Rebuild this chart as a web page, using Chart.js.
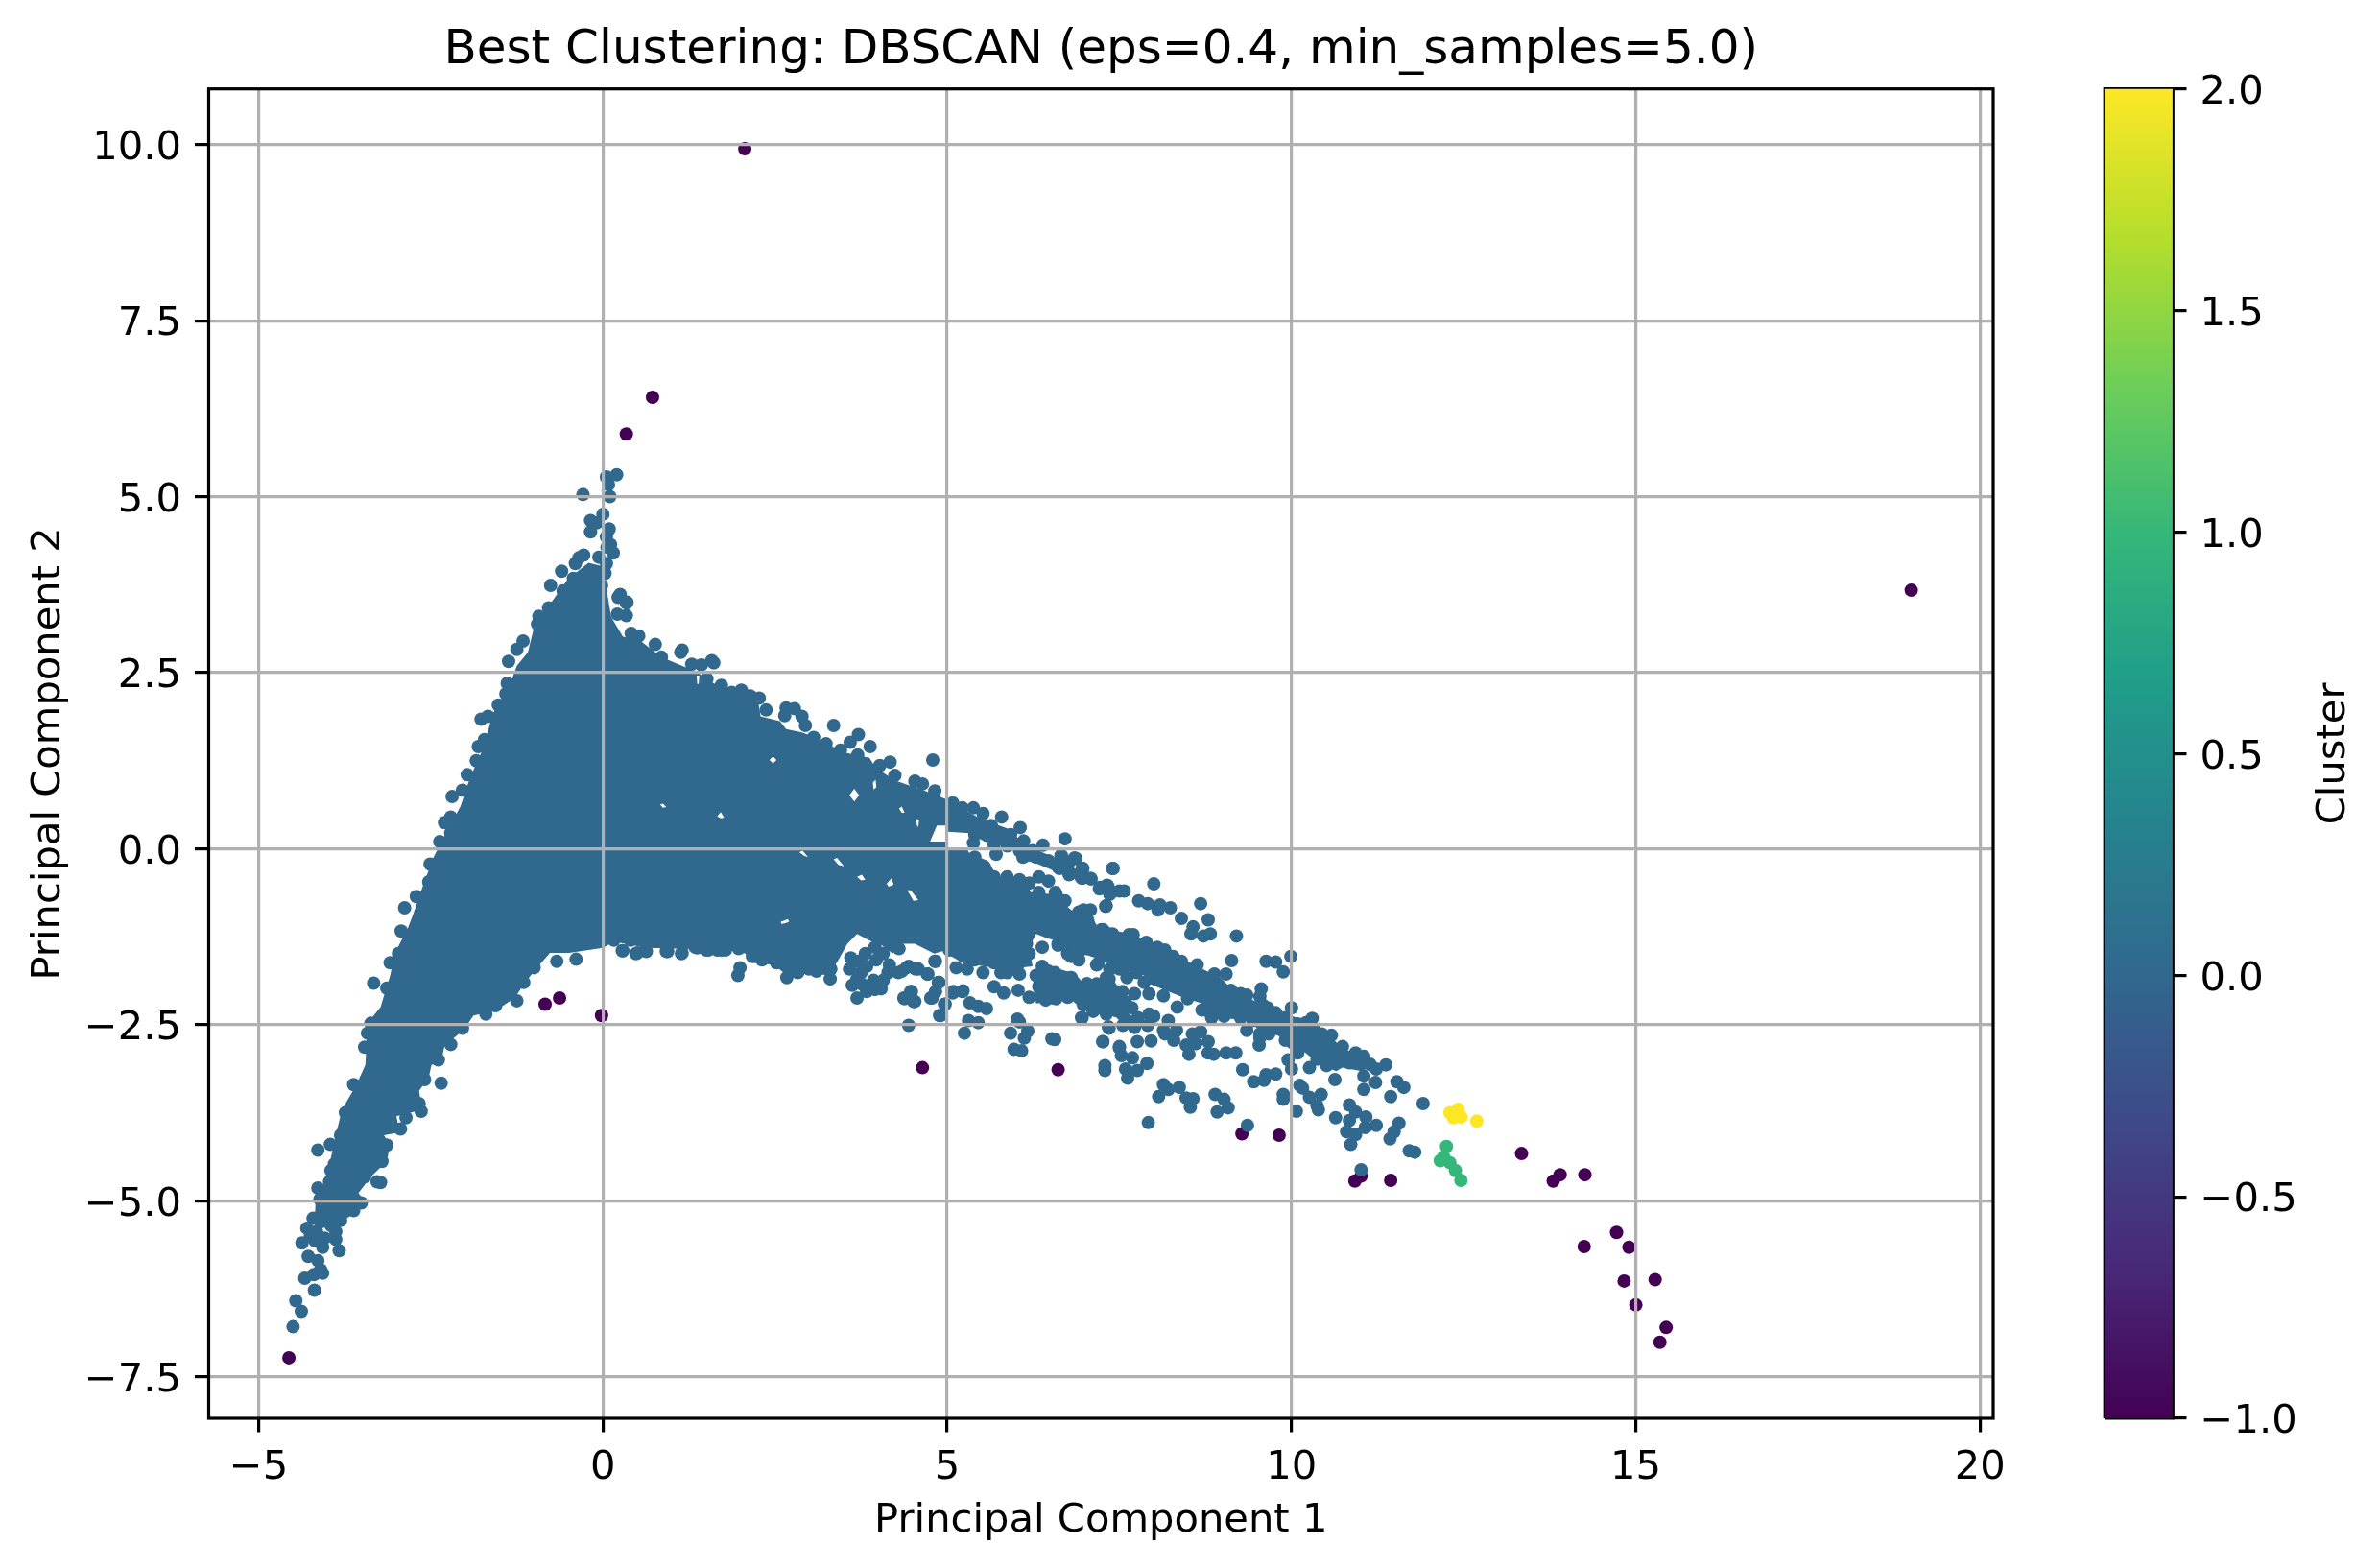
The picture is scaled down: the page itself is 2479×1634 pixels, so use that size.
<!DOCTYPE html>
<html><head><meta charset="utf-8">
<style>html,body{margin:0;padding:0;background:#fff}canvas{display:block}</style>
<script src="https://cdn.jsdelivr.net/npm/chart.js@4"></script>
</head><body><canvas id="c" width="2479" height="1634"></canvas>
<script>
const chartTitle="Best Clustering: DBSCAN (eps=0.4, min_samples=5.0)";
const xLabel="Principal Component 1", yLabel="Principal Component 2", cbLabel="Cluster";
const xTicks=[-5,0,5,10,15,20];
const yTicks=[-7.5,-5,-2.5,0,2.5,5,7.5,10];
const cbTicks=[-1,-0.5,0,0.5,1,1.5,2];
const xRange=[-5.725,20.19], yRange=[-8.09,10.79], cbRange=[-1,2];
const viridis=["#440154","#482878","#3e4989","#31688e","#26828e","#1f9e89","#35b779","#6ece58","#b5de2b","#fde725"];

// Where the points overlap completely: outlines of the solid regions of cluster 0
const solidMain=[[-0.21,4.06],[-0.51,3.83],[-0.74,3.51],[-1,3.15],[-1.09,2.79],[-1.25,2.6],[-1.35,2.33],[-1.6,1.92],[-1.74,1.42],[-1.93,1.01],[-2.07,0.6],[-2.28,0.22],[-2.46,-0.12],[-2.6,-0.49],[-2.76,-0.94],[-2.83,-1.12],[-3.02,-1.48],[-3.09,-1.8],[-3.23,-2.25],[-3.42,-2.48],[-3.45,-3.07],[-3.58,-3.35],[-3.79,-3.71],[-3.88,-4.07],[-3.97,-4.48],[-4.02,-4.71],[-4.17,-4.94],[-4.18,-5.16],[-4.25,-5.28],[-3.81,-5.3],[-3.62,-5.19],[-3.44,-5.03],[-3.55,-4.89],[-3.37,-4.66],[-3.14,-4.44],[-3.09,-4.21],[-3.18,-4.07],[-2.95,-4.03],[-3,-3.8],[-2.63,-3.71],[-2.67,-3.44],[-2.53,-3.25],[-2.49,-3.07],[-2.35,-3.03],[-2.3,-2.8],[-2.02,-2.57],[-1.88,-2.37],[-1.56,-2.3],[-1.28,-2.12],[-1.14,-1.91],[-0.93,-1.66],[-0.77,-1.48],[-0.49,-1.48],[0,-1.41],[0.16,-1.32],[0.63,-1.41],[1.84,-1.44],[2.07,-1.49],[2.16,-1.62],[2.49,-1.65],[2.67,-1.8],[2.95,-1.76],[3.28,-1.8],[3.42,-1.58],[3.55,-1.35],[3.69,-1.21],[3.88,-1.31],[4.02,-1.35],[4.21,-1.49],[4.3,-1.35],[4.53,-1.35],[4.81,-1.49],[4.99,-1.44],[4.99,0.1],[4.75,0.1],[4.85,0.33],[4.99,0.33],[4.99,0.7],[4.71,0.81],[4.24,0.97],[3.96,1.15],[3.87,1.29],[3.45,1.38],[3.27,1.49],[3.03,1.6],[2.89,1.65],[2.66,1.7],[2.57,1.81],[2.29,1.88],[2.25,2.12],[1.87,2.2],[1.64,2.33],[1.36,2.51],[0.85,2.72],[0.52,2.97],[0.29,3.01],[0.12,3.29],[0.05,3.7],[0,4.01]];
const solidMainHoles=[
[[3.58,0.76],[3.65,0.85],[3.72,0.76],[3.65,0.67]],
[[2.42,1.26],[2.47,1.31],[2.52,1.26],[2.47,1.21]],
[[1.66,0.46],[1.71,0.52],[1.76,0.44],[1.71,0.43]],
[[0.83,0.63],[0.87,0.64],[0.92,0.59],[0.87,0.58]],
[[3.92,0.94],[3.96,0.98],[3.97,0.87],[3.93,0.84]],
[[4.3,0.57],[4.34,0.6],[4.38,0.51],[4.34,0.51]],
[[2.85,-0.05],[2.9,-0.03],[2.98,-0.12],[2.92,-0.1]],
[[3.35,-0.15],[3.4,-0.13],[3.5,-0.25],[3.42,-0.23]],
[[3.69,-0.4],[3.76,-0.37],[3.81,-0.44],[3.75,-0.45]],
[[4.12,-0.5],[4.19,-0.42],[4.22,-0.51],[4.15,-0.54]],
[[4.42,-0.59],[4.47,-0.59],[4.58,-0.73],[4.51,-0.74]],
[[2.58,-1.04],[2.69,-1],[2.7,-1.04],[2.6,-1.07]],
[[4.55,0.42],[4.59,0.41],[4.58,0.31],[4.56,0.33]],
[[1.36,2.46],[1.4,2.46],[1.39,2.34],[1.37,2.34]]
];
const solidMiddle=[[4.96,-0.01],[5.22,-0.03],[5.59,-0.17],[5.73,-0.4],[6.1,-0.42],[6.22,-0.62],[6.57,-0.65],[6.75,-0.83],[6.89,-0.94],[7.12,-0.96],[7.17,-1.12],[7.54,-1.21],[7.54,-1.44],[7.17,-1.4],[6.8,-1.35],[6.47,-1.28],[6.29,-1.21],[6.19,-1.4],[6.24,-1.67],[5.87,-1.71],[5.54,-1.67],[5.22,-1.62],[4.99,-1.49],[4.96,-0.94]];
const solidMiddleHoles=[
[[5.38,-0.9],[5.64,-0.96],[5.71,-1.12],[5.5,-1.17]],
[[5.79,-1.2],[5.85,-1.2],[5.85,-1.36],[5.79,-1.36]]
];
const solidUpper=[[4.96,0.7],[5.22,0.56],[5.5,0.42],[5.87,0.29],[6.03,0.15],[6.33,-0.03],[6.66,-0.17],[6.98,-0.35],[7.03,-0.44],[6.8,-0.42],[6.52,-0.3],[6.24,-0.19],[6.05,-0.17],[6.01,0.01],[5.54,0.1],[5.33,0.22],[5.01,0.24]];
const solidBand=[[6.56,-0.89],[6.84,-0.89],[7.07,-1.11],[7.63,-1.2],[7.86,-1.3],[8.16,-1.43],[8.61,-1.66],[8.98,-1.84],[9.16,-2.02],[9.54,-2.2],[9.91,-2.34],[10.28,-2.48],[10.56,-2.66],[10.74,-2.84],[11.02,-2.93],[11.21,-3.07],[11.02,-3.16],[10.74,-3.11],[10.65,-3.16],[10.42,-3.07],[10.19,-2.89],[10,-2.8],[9.81,-2.66],[9.54,-2.57],[9.3,-2.43],[8.79,-2.39],[8.7,-2.2],[8.42,-2.11],[7.96,-1.93],[7.86,-1.8],[7.49,-1.7],[7.17,-1.56],[6.79,-1.43],[6.56,-1.35]];
const solidLower=[[6.56,-1.8],[6.79,-1.8],[7.03,-1.93],[7.35,-1.86],[7.39,-2.02],[7.68,-2.11],[7.68,-2.29],[7.44,-2.36],[6.98,-2.29],[6.93,-2.13],[6.56,-2.13]];
const solidLower2=[[6.33,-1.62],[6.8,-1.76],[6.98,-1.9],[7.45,-1.94],[7.54,-2.27],[6.94,-2.27],[6.8,-2.14],[6.29,-2.2],[6.24,-1.94]];

const cluster0Points=[
[0.2,5.31],[0.05,5.28],[0.08,5.17],[-0.29,5.03],[0.1,5],[0,4.75],[-0.18,4.66],[-0.09,4.63],[-0.18,4.5],[0.09,4.54],[0.05,4.43],[0.11,4.32],[0.06,4.28],[0.15,4.2],[-0.06,4.14],[-0.28,4.17],[-0.35,4.13],[-0.4,4.05],[0.05,4.05],[0.03,3.91],[-0.6,3.94],[-0.76,3.74],[-0.58,3.66],[-0.43,3.84],[-0.02,3.74],[0.25,3.61],[0.35,3.5],[0.22,3.57],[0.34,3.31],[0.21,3.33],[-0.79,3.42],[-0.93,3.3],[-0.95,3.19],[-1.16,2.95],[-1.25,2.83],[-1.37,2.66],[-1.39,2.35],[-1.41,2.2],[-1.52,2.04],[-1.67,1.88],[-1.77,1.84],[-1.72,1.55],[-1.81,1.45],[-1.84,1.25],[-1.97,1.05],[-2.04,0.83],[-2.19,0.74],[-2.21,0.45],[-2.3,0.37],[-2.21,0.22],[-2.37,0.1],[-2.51,-0.22],[-2.53,-0.47],[-2.71,-0.68],[-2.88,-0.84],
[0.34,3.49],[0.41,3.06],[0.52,3.02],[0.76,2.9],[1.15,2.82],[1.13,2.79],[0.85,2.72],[1.29,2.62],[1.43,2.61],[1.58,2.67],[1.61,2.64],[1.51,2.41],[1.72,2.32],[1.87,2.22],[2.01,2.25],[2.14,2.17],[2.27,2.14],[2.37,1.97],[2.66,2],[2.78,1.99],[2.64,1.89],[2.89,1.88],[2.94,1.75],[3.35,1.75],[3.71,1.62],[3.59,1.51],[3.88,1.45],[3.24,1.49],[3.06,1.58],[4.17,1.23],[4.79,1.26],[4.24,1.04],[4.53,0.96],[4.64,0.92],[4.82,0.82],[3.45,1.4],[3.7,1.33],[4.02,1.18],
[-2.93,-1.17],[-2.97,-1.49],[-3.09,-1.62],[-3.33,-1.91],[-3.14,-1.98],[-3.37,-2.48],[-3.42,-2.62],[-3.46,-2.82],[-3.62,-3.35],[-3.74,-3.75],[-3.81,-4.07],[-3.96,-4.2],[-4.14,-4.28],[-3.9,-4.48],[-3.95,-4.57],[-3.97,-4.73],[-4.14,-4.82],[-3.51,-5.03],[-4.11,-4.98],[-4.21,-5.25],[-4.3,-5.39],[-4.37,-5.6],[-4.28,-5.79],[-4.14,-5.85],[-4.1,-5.98],[-4.07,-6.03],[-4.33,-6.1],[-4.2,-6.05],[-4.19,-6.27],[-4.46,-6.42],[-4.38,-6.57],[-4.5,-6.79],[-3.83,-5.71],[-3.88,-5.55],[-3.88,-5.44],[-4.07,-5.66],[-4.04,-5.53],[-4.18,-5.57],[-4.16,-5.44],[-4.25,-5.5],[-3.81,-5.28],[-3.62,-5.14],[-3.23,-4.74],[-3.28,-4.73],[-3.46,-4.66],[-3.21,-4.44],[-3.14,-4.21],[-2.94,-3.98],[-2.86,-3.82],[-2.64,-3.73],[-2.67,-3.62],[-2.35,-3.33],[-2.59,-3.28],[-2.39,-3],[-2.21,-2.78],[-2.04,-2.55],[-1.7,-2.35],[-1.56,-2.23],[-1.25,-2.16],[-1.15,-1.9],[-1,-1.69],[-0.67,-1.6],[-0.39,-1.57],[-0.58,-1.37],[0.28,-1.45],[0.5,-1.48],[0.63,-1.46],[0.94,-1.46],[1.15,-1.48],[1.37,-1.41],[1.53,-1.44],[1.72,-1.44],[0.16,-1.3],[0.4,-1.3],
[-4,-5.2],[-3.95,-5.35],[-4.1,-5.3],
[0.29,-1.45],[0.48,-1.49],[0.62,-1.44],[0.92,-1.46],[1.14,-1.49],[1.34,-1.4],[1.5,-1.44],[1.66,-1.44],[1.78,-1.44],[1.97,-1.42],[2.17,-1.53],[2.31,-1.58],[1.99,-1.69],[1.96,-1.8],[2.67,-1.83],[2.83,-1.76],[2.99,-1.71],[3.1,-1.74],[3.3,-1.85],[3.31,-1.71],[3.36,-1.28],[3.13,-1.3],[3.08,-1.44],[3.03,-1.58],[2.52,-1.62],[2.71,-1.62],[2.48,-1.44],[2.76,-1.44],[2.29,-1.4],[4.3,-1.42],[4.41,-1.69],[4.29,-1.76],[4.54,-1.71],[4.71,-1.78],[4.82,-1.6],[4.87,-1.9],[4.78,-2.12],[4.38,-2.13],[4.51,-2.17],[4.47,-2.03],[4.96,-2.21],[4.89,-2.37],[4.44,-2.51],[5.08,-2.05],[5.22,-2.03],[5.33,-2.19],[5.45,-2.24],[5.57,-2.27],[5.31,-2.44],[5.45,-2.47],[5.25,-2.62],[6.02,-2.42],[6.05,-2.46],[5.92,-2.62],[6.17,-2.59],[6.12,-2.69],[5.97,-2.85],[6.08,-2.87],[6.52,-2.7],[7.26,-2.74],[7.35,-2.55],[7.5,-2.83],[6.95,-2.4],[5.68,-1.96],[5.82,-2.05],[6.03,-2.01],[6.19,-2.11],[6.43,-2.15],[6.75,-2.11],[6.54,-2.12],[6.98,-2.21],[7.12,-2.3],[7.31,-2.35],[7.45,-2.3],[6.38,-1.4],[6.61,-1.37],[6.75,-1.49],[6.91,-1.58],[7.17,-1.65],[7.36,-1.71],[7.31,-1.83],
[3.58,-1.71],[3.69,-1.85],[3.62,-1.94],[3.69,-2.12],[3.83,-2.03],[4.04,-1.99],[4.16,-1.65],[4.07,-1.49],[3.95,-1.4],[3.81,-1.49],[3.83,-1.67],[3.97,-1.58],[4.14,-1.76],[3.93,-1.87],[3.6,-1.55],[3.71,-1.6],[3.75,-1.76],[3.77,-1.93],[3.95,-2.0],[4.07,-1.87],
[4.34,-1.74],[4.44,-1.67],[4.58,-1.71],[4.72,-1.78],[4.88,-1.9],[4.83,-2.03],[4.76,-2.12],[4.48,-2.03],[4.37,-2.12],[4.53,-2.17],[4.97,-2.21],[4.9,-2.37],[4.83,-1.6],[5.09,-2.03],[5.23,-2.02],
[6.38,-1.67],[6.47,-1.74],[6.29,-1.8],[6.61,-1.85],[6.8,-1.83],[6.52,-1.96],[6.33,-1.96],[6.71,-1.99],[6.84,-1.92],[7.03,-1.92],[7.17,-1.94],[7.36,-1.96],[7.45,-2.03],[6.94,-2.12],[7.08,-2.12],[7.22,-2.17],[7.36,-2.17],[7.5,-2.17],
[5.13,-1.69],[5.29,-1.71],[5.52,-1.76],[5.03,-1.44],[5.24,-1.53],[5.4,-1.58],[5.54,-1.53],[5.68,-1.62],[5.73,-1.49],[5.78,-1.76],[5.87,-1.76],[6.05,-1.78],[6.05,-1.62],[6.19,-1.49],[6.15,-1.35],[6.01,-1.4],[5.92,-1.53],[5.82,-1.62],[5.96,-1.71],
[5.08,0.65],[5.22,0.58],[5.38,0.58],[5.52,0.5],[5.22,0.47],[5.36,0.33],[5.45,0.33],[5.64,0.33],[5.79,0.45],[5.54,0.22],[5.68,0.22],[5.82,0.15],[5.92,0.2],[5.4,0.2],[5.38,0.08],[6.06,0.3],[6.11,0.11],[6.05,-0.03],[6.1,-0.12],[5.87,0.04],[5.71,-0.08],[5.68,0.06],[6.24,-0.03],[6.39,0.05],[6.29,-0.12],[6.47,-0.17],[6.61,-0.26],[6.66,-0.1],[6.71,0.14],[6.87,-0.14],[6.78,-0.35],[6.97,-0.28],[6.94,-0.4],[7.09,-0.43],[7.22,-0.55],[7.33,-0.53],[7.4,-0.28],[7.5,-0.6],[7.31,-0.81],[7.36,-0.65],
[6.33,-0.4],[6.19,-0.49],[6.47,-0.46],[6.57,-0.62],[6.71,-0.74],[6.33,-0.62],[6.1,-0.71],[6.24,-0.8],[6.47,-0.9],[6.66,-0.94],[6.98,-0.87],[6.94,-0.96],[7.08,-0.87],[6.89,-1.08],[7.08,-1.12],[7.26,-1.15],[7.4,-1.21],[6.8,-1.21],[6.61,-1.17],[6.43,-1.12],[6.24,-1.08],[6.05,-1.03],[6.98,-1.3],[7.17,-1.33],[7.36,-1.4],[7.5,-1.49],[7.12,-1.44],[6.94,-1.44],[6.8,-1.35],[7.5,-1.71],[7.5,-1.3],[6.8,-1.53],
[5.22,-0.08],[5.4,-0.12],[5.54,-0.26],[5.68,-0.4],[5.87,-0.4],[6.05,-0.44],
[6.65,-0.1],[6.85,-0.13],[6.77,-0.19],[6.96,-0.28],[7.41,-0.28],[6.63,-0.28],[6.77,-0.37],[6.96,-0.42],[7.08,-0.42],[8,-0.5],[7.21,-0.57],[7.32,-0.52],[7.57,-0.6],[7.39,-0.61],[7.3,-0.82],[7.78,-0.74],[7.91,-0.78],[8.06,-0.87],[8.09,-0.8],[8.24,-0.84],[8.68,-0.78],[8.4,-0.99],[8.79,-1.01],[8.57,-1.11],[8.54,-1.21],[8.72,-1.24],[8.82,-1.21],[9.2,-1.24],[9.13,-1.59],[9.63,-1.6],[9.77,-1.61],[9.99,-1.53],[9.88,-1.75],
[6.58,-0.65],[6.68,-0.74],[6.61,-0.9],[6.7,-1.03],[6.91,-0.9],[7.03,-0.9],[7.03,-1.01],[6.84,-1.08],[6.61,-1.12],[6.75,-1.22],[6.93,-1.17],[7.07,-1.26],[6.61,-1.35],[6.75,-1.49],[6.91,-1.58],[7.24,-1.15],[7.35,-1.21],[7.21,-1.35],[7.03,-1.42],[7.19,-1.63],[7.3,-1.49],[7.51,-1.28],[7.64,-1.22],[7.7,-1.22],[7.49,-1.44],[7.65,-1.4],[7.79,-1.53],[7.42,-1.67],[7.56,-1.67],[7.72,-1.67],[7.89,-1.33],[8.05,-1.4],[8.16,-1.44],[7.96,-1.53],[8.12,-1.6],[8.28,-1.53],[8.4,-1.6],[8.21,-1.76],[7.96,-1.81],[7.86,-1.9],[8.63,-1.65],[8.51,-1.72],[8.37,-1.76],[8.61,-1.85],[8.42,-1.94],[8.19,-1.92],[8.88,-1.78],[9.05,-1.78],[8.79,-1.9],[8.93,-1.94],[8.61,-2.04],[8.49,-2.13],[8.75,-2.08],[9.12,-2.01],[9.26,-2.06],[9.35,-2.08],[9.56,-1.99],[9.54,-2.1],[8.98,-2.1],[9.16,-2.22],[9.35,-2.26],[9.58,-2.22],[9.65,-2.26],[9.77,-2.33],[9.91,-2.4],[10,-2.26],[8.88,-2.26],[8.75,-2.29],[8.84,-2.4],[9.02,-2.38],[9.26,-2.4],[9.44,-2.44],[9.63,-2.49],[9.35,-2.58],[9.54,-2.63],[9.67,-2.63],[9.81,-2.54],[9.98,-2.49],[10.09,-2.49],[10.21,-2.47],[10.3,-2.41],[10.33,-2.58],[10.14,-2.63],[9.91,-2.72],[10.02,-2.76],[10.09,-2.9],[10.23,-2.72],[10.44,-2.63],[10.58,-2.65],[10.51,-2.72],[10.42,-2.86],[10.74,-2.81],[10.6,-2.9],[10.37,-2.99],[10.93,-2.9],[11.05,-2.95],[11.14,-3.06],[11.37,-3.07],[10.84,-3.04],[10.65,-2.99],[10.51,-3.08],[10.26,-3.11],[11.05,-3.23],[11.23,-3.13],[10.63,-3.28],[11.22,-3.32],[11.05,-3.42],[11.53,-3.31],[11.63,-3.39],[11.44,-3.52],[11.91,-3.62],[10,-3.13],[9.95,-3],[9.53,-2.79],[9.54,-2.69],
[6.56,-1.76],[6.79,-1.83],[6.84,-1.9],[6.65,-1.95],[6.58,-2.13],[6.75,-2.1],[6.89,-2.06],[7.03,-1.92],[7.17,-1.92],[7.35,-1.85],[7.35,-1.94],[7.03,-2.08],[7.17,-2.08],[7.35,-2.06],[7.54,-2.03],[7.72,-2.06],[7.61,-1.83],[7.75,-1.76],[7.93,-2.06],[8.14,-2.09],[8.34,-2.25],[8.7,-2.29],[6.98,-2.22],[7.12,-2.31],[6.96,-2.4],[7.17,-2.26],[7.3,-2.31],[7.49,-2.24],[7.68,-2.26],[7.54,-2.35],[7.61,-2.44],[7.77,-2.4],[7.93,-2.35],[8,-2.38],[8.21,-2.44],[7.34,-2.53],[7.55,-2.51],[7.72,-2.54],[7.91,-2.51],[8.14,-2.58],[8.33,-2.58],[8.16,-2.63],[8.29,-2.72],[8.56,-2.63],[8.68,-2.6],[8.79,-2.74],[8.47,-2.79],[8.61,-2.77],[8.51,-2.92],[8.79,-2.9],[8.87,-2.92],[9.05,-2.9],[9.19,-2.9],[7.26,-2.74],[7.5,-2.81],[7.76,-2.74],[7.96,-2.73],[6.56,-2.71],[7.53,-2.94],[7.69,-2.97],[7.9,-3.05],[7.29,-3.08],[7.29,-3.15],[7.59,-3.13],[7.76,-3.15],[7.62,-3.26],[9.29,-3.14],[9.45,-3.31],[9.63,-3.21],[9.77,-3.2],[9.6,-3.29],[9.88,-3.49],[9.88,-3.56],[10.12,-3.36],[10.16,-3.4],[10.26,-3.53],[10.43,-3.49],[10.37,-3.65],[10.39,-3.71],[10.07,-3.73],[8.14,-3.35],[8.37,-3.39],[8.21,-3.42],[8.07,-3.52],[8.47,-3.54],[8.57,-3.55],[8.53,-3.67],[8.89,-3.49],[9.02,-3.56],[9.08,-3.68],[8.92,-3.74],[7.92,-3.89],[9.36,-3.93],[10.84,-3.64],[10.93,-3.74],[11.08,-3.81],[10.84,-3.86],[10.64,-3.82],[11.23,-3.93],[11.07,-3.96],[10.8,-4.02],[10.93,-4.06],[10.86,-4.2],[11.56,-3.9],[11.49,-4.02],[11.43,-4.12],[11.71,-4.29],[11.79,-4.31],[11.01,-4.56]
];
const noisePoints=[[2.06,9.94],[0.72,6.41],[0.34,5.89],[19,3.67],[-4.56,-7.23],[-0.84,-2.21],[-0.63,-2.12],[-0.02,-2.37],[4.64,-3.11],[6.61,-3.14],[9.28,-4.05],[9.82,-4.07],[10.92,-4.72],[11.01,-4.65],[11.44,-4.71],[13.34,-4.33],[13.9,-4.63],[13.8,-4.72],[14.26,-4.63],[14.72,-5.45],[14.9,-5.66],[14.25,-5.65],[14.83,-6.14],[15.28,-6.12],[15,-6.48],[15.44,-6.8],[15.35,-7.01]];
const cluster1Points=[[12.25,-4.23],[12.16,-4.43],[12.21,-4.38],[12.3,-4.46],[12.38,-4.57],[12.46,-4.71]];
const cluster2Points=[[12.3,-3.75],[12.42,-3.7],[12.35,-3.82],[12.46,-3.81],[12.37,-3.75],[12.69,-3.87]];
const cbXCentre=22.3, cbXLeft=21.81, cbXRight=22.8;

const pts=a=>a.map(p=>({x:p[0],y:p[1]}));
const minus=s=>s.replace('-','\u2212');
const withHoles=(outline,holes)=>outline.concat([outline[0]],holes.flatMap(h=>[...h,h[0],outline[0]]));
const FONT='"DejaVu Sans"';
const markerR=7, lw=3.2;
const cbAxisLeft=2264;

const dot=(label,data,color)=>({type:'scatter',label,data:pts(data),backgroundColor:color,pointBackgroundColor:color,pointRadius:markerR,pointBorderWidth:0,pointHoverRadius:markerR});
const solid=(label,data)=>({type:'scatter',label,data:pts(data),showLine:true,fill:'shape',backgroundColor:'#31688e',borderWidth:0,pointRadius:0,tension:0});

function cbGradient(ctx){
  const ch=ctx.chart, s=ch.scales.cb;
  if(!ch.chartArea||!s) return viridis[0];
  const g=ch.ctx.createLinearGradient(0,s.getPixelForValue(cbRange[0]),0,s.getPixelForValue(cbRange[1]));
  viridis.forEach((c,i)=>g.addColorStop(i/(viridis.length-1),c));
  return g;
}

const extras={id:'extras',
  afterLayout(ch){const s=ch.scales.cb; const w=s.width; s.left=cbAxisLeft; s.right=cbAxisLeft+w;},
  afterDraw(ch){
    const c=ch.ctx,a=ch.chartArea;
    c.save();
    c.strokeStyle='#000';c.lineWidth=lw;
    c.strokeRect(a.left,a.top,a.right-a.left,a.bottom-a.top);
    c.fillStyle='#000';c.font='41.67px '+FONT;c.textAlign='center';c.textBaseline='middle';
    c.translate(2432,(a.top+a.bottom)/2);c.rotate(-Math.PI/2);
    c.fillText(cbLabel,0,0);
    c.restore();
  }};

new Chart(document.getElementById('c'),{
  type:'scatter',
  plugins:[extras],
  data:{datasets:[
    solid('cluster 0 solid',withHoles(solidMain,solidMainHoles)),
    solid('cluster 0 middle band',withHoles(solidMiddle,solidMiddleHoles)),
    solid('cluster 0 upper band',solidUpper),
    solid('cluster 0 tail band',solidBand),
    solid('cluster 0 lower band',solidLower),
    solid('cluster 0 lower band 2',solidLower2),
    dot('cluster 0',cluster0Points,'#31688e'),
    dot('noise',noisePoints,'#440154'),
    dot('cluster 1',cluster1Points,'#35b779'),
    dot('cluster 2',cluster2Points,'#fde725'),
    {type:'scatter',label:'colorbar',yAxisID:'cb',data:[{x:cbXCentre,y:cbRange[0]},{x:cbXCentre,y:cbRange[1]}],showLine:true,clip:false,borderColor:cbGradient,borderWidth:71,borderCapStyle:'butt',pointRadius:0,tension:0},
    {type:'scatter',label:'colorbar frame',yAxisID:'cb',data:[{x:cbXLeft,y:cbRange[0]},{x:cbXRight,y:cbRange[0]},{x:cbXRight,y:cbRange[1]},{x:cbXLeft,y:cbRange[1]},{x:cbXLeft,y:cbRange[0]}],showLine:true,clip:false,borderColor:'#000',borderWidth:lw,pointRadius:0,tension:0,borderJoinStyle:'miter'}
  ]},
  options:{
    responsive:false,animation:false,devicePixelRatio:1,
    layout:{padding:0},
    events:[],
    plugins:{
      legend:{display:false},tooltip:{enabled:false},
      title:{display:true,text:chartTitle,fullSize:false,color:'#000',font:{family:FONT,size:50,weight:'normal',lineHeight:1.2},padding:{top:23.5,bottom:9.2}}
    },
    scales:{
      x:{type:'linear',min:xRange[0],max:xRange[1],position:'bottom',
        afterFit(s){s.height=156},
        afterBuildTicks(s){s.ticks=xTicks.map(v=>({value:v}))},
        grid:{color:'#b0b0b0',lineWidth:lw,z:1,tickColor:'#000',tickWidth:lw,tickLength:14.5},
        border:{display:false},
        ticks:{color:'#000',font:{family:FONT,size:41.67},padding:13,maxRotation:0,autoSkip:false,callback:v=>minus(String(v))},
        title:{display:true,text:xLabel,color:'#000',font:{family:FONT,size:41.67,lineHeight:1.2},padding:{top:0,bottom:23.5}}
      },
      y:{type:'linear',min:yRange[0],max:yRange[1],position:'left',
        afterFit(s){s.width=217.5},
        afterBuildTicks(s){s.ticks=yTicks.map(v=>({value:v}))},
        grid:{color:'#b0b0b0',lineWidth:lw,z:1,tickColor:'#000',tickWidth:lw,tickLength:14.5},
        border:{display:false},
        ticks:{color:'#000',font:{family:FONT,size:41.67},padding:14,labelOffset:4.5,autoSkip:false,callback:v=>minus(v.toFixed(1))},
        title:{display:true,text:yLabel,color:'#000',font:{family:FONT,size:41.67,lineHeight:1.2},padding:{top:26,bottom:0}}
      },
      cb:{type:'linear',min:cbRange[0],max:cbRange[1],position:'right',
        afterFit(s){s.width=402},
        afterBuildTicks(s){s.ticks=cbTicks.map(v=>({value:v}))},
        grid:{drawOnChartArea:false,color:'#000',lineWidth:lw,tickColor:'#000',tickWidth:lw,tickLength:14.5},
        border:{display:false},
        ticks:{color:'#000',font:{family:FONT,size:41.67},padding:14,labelOffset:4.5,autoSkip:false,callback:v=>minus(v.toFixed(1))}
      }
    }
  }
});
</script></body></html>
